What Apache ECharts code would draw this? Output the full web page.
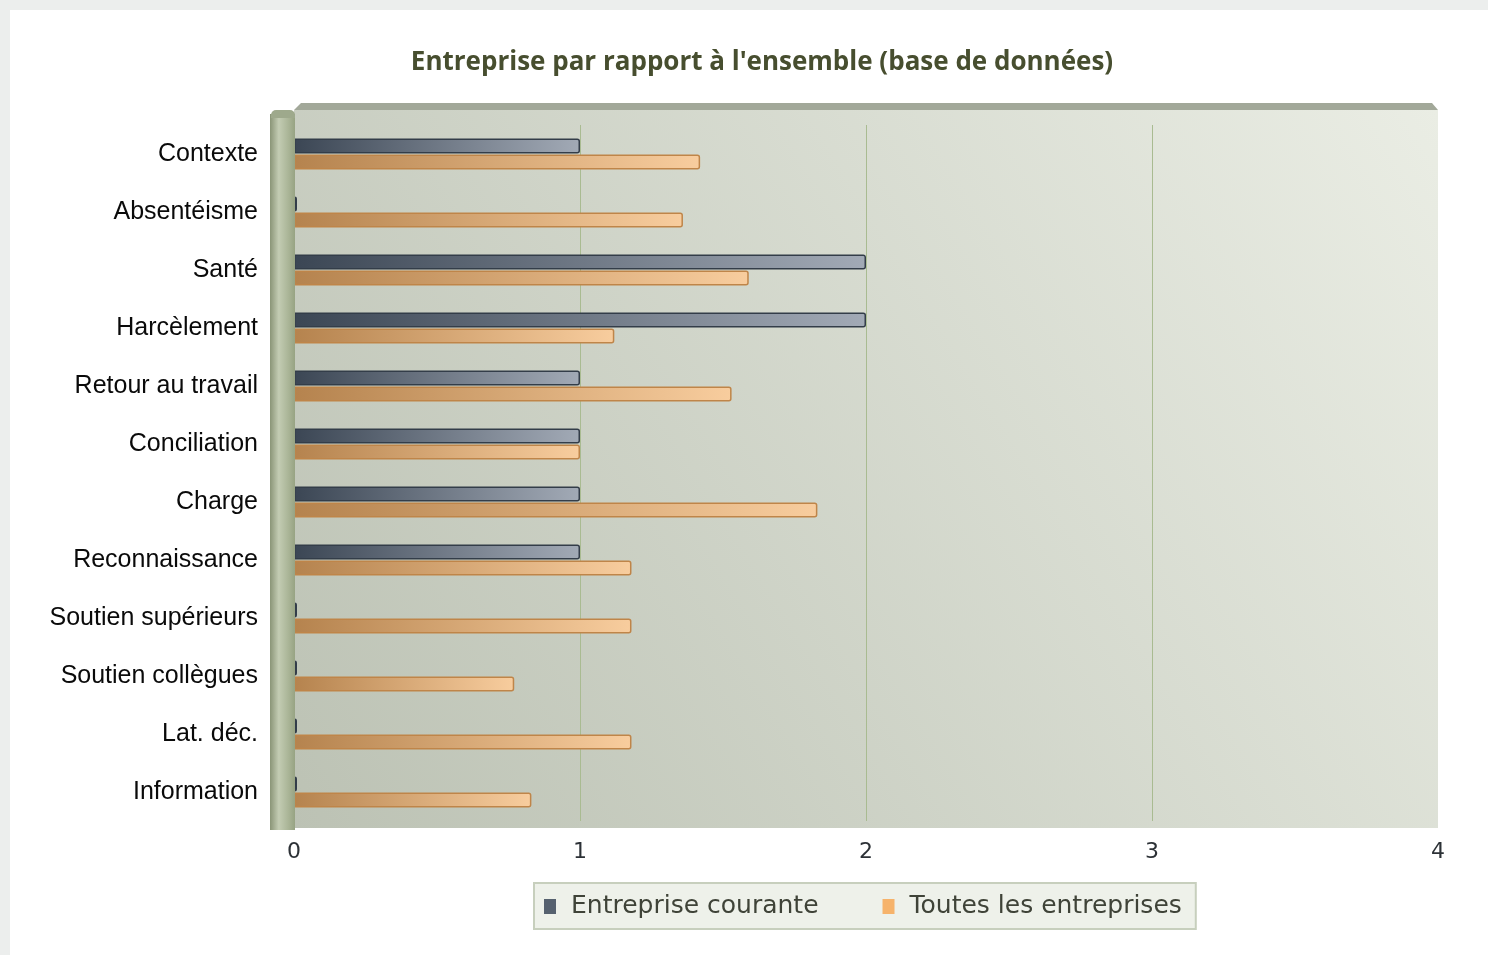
<!DOCTYPE html>
<html>
<head>
<meta charset="utf-8">
<title>Entreprise par rapport à l'ensemble</title>
<script src="https://cdn.jsdelivr.net/npm/echarts@6/dist/echarts.min.js"></script>
<style>
    html, body { margin: 0; padding: 0; background: #eceeed; }
    #panel { position: absolute; left: 10px; top: 10px; right: 0; bottom: 0; background: #fff; }
    #container0 { position: absolute; left: 0; top: 0; width: 1488px; height: 955px; }
</style>
</head>
<body>
<div id="panel"></div>
<div id="container0"></div>
<script>
var chart_0;

// catégories (de haut en bas)
var categories = ['Contexte', 'Absentéisme', 'Santé', 'Harcèlement', 'Retour au travail', 'Conciliation',
    'Charge', 'Reconnaissance', 'Soutien supérieurs', 'Soutien collègues', 'Lat. déc.', 'Information'];
var courante = [1, 0, 2, 2, 1, 1, 1, 1, 0, 0, 0, 0];
var toutes = [1.42, 1.36, 1.59, 1.12, 1.53, 1.0, 1.83, 1.18, 1.18, 0.77, 1.18, 0.83];
var xTicks = [0, 4, 1]; // min, max, intervalle

function grad(c0, c1) {
    return new echarts.graphic.LinearGradient(0, 0, 1, 0, [
        {offset: 0, color: c0},
        {offset: 1, color: c1}
    ]);
}

var opt_chart_0 = {
    animation: false,
    title: {
        text: "Entreprise par rapport à l'ensemble (base de données)",
        left: 757,
        textAlign: 'center',
        top: 45,
        textStyle: {
            fontFamily: 'Open Sans',
            fontSize: 26,
            fontWeight: 'bold',
            color: '#474e2f'
        }
    },
    // décor 3D du fond
    graphic: [
        {
            type: 'rect', z: -10, silent: true,
            shape: {x: 294, y: 110, width: 1144, height: 718},
            style: {
                fill: new echarts.graphic.LinearGradient(0, 1, 1, 0, [
                    {offset: 0, color: '#bcc2b4'},
                    {offset: 1, color: '#eaede4'}
                ])
            }
        },
        {
            type: 'polygon', z: -10, silent: true,
            shape: {points: [[294, 110], [301, 103], [1432, 103], [1438, 110]]},
            style: {fill: '#a2a899'}
        },
        {
            type: 'rect', z: 50, silent: true,
            shape: {x: 270, y: 114, width: 25, height: 716},
            style: {
                fill: new echarts.graphic.LinearGradient(0, 0, 1, 0, [
                    {offset: 0, color: '#8a9577'},
                    {offset: 0.35, color: '#c3ccb3'},
                    {offset: 0.75, color: '#a9b496'},
                    {offset: 1, color: '#97a383'}
                ])
            }
        },
        {
            type: 'rect', z: 50, silent: true,
            shape: {x: 271, y: 110, width: 24, height: 8, r: [5, 5, 0, 0]},
            style: {fill: '#9ea98c'}
        }
    ],
    grid: {
        left: 294,
        right: 50,
        top: 125,
        bottom: 134
    },
    legend: {
        left: 534,
        top: 883,
        padding: [11, 14, 10, 10],
        itemGap: 64,
        itemWidth: 12,
        itemHeight: 15,
        icon: 'rect',
        backgroundColor: '#eef1ea',
        borderColor: '#c7cfbd',
        borderWidth: 2,
        itemStyle: {borderWidth: 0},
        textStyle: {
            fontFamily: 'DejaVu Sans',
            fontSize: 25,
            color: '#3f4338',
            padding: [0, 0, 0, 10]
        },
        data: [
            {name: 'Entreprise courante', itemStyle: {color: '#56616f', borderWidth: 0}},
            {name: 'Toutes les entreprises', itemStyle: {color: '#f6b36b', borderWidth: 0}}
        ]
    },
    xAxis: {
        type: 'value',
        min: xTicks[0],
        max: xTicks[1],
        interval: xTicks[2],
        axisLine: {show: false},
        axisTick: {show: false},
        axisLabel: {
            margin: 20,
            fontFamily: 'DejaVu Sans',
            fontSize: 22,
            color: '#2c3136'
        },
        splitLine: {
            showMinLine: false,
            showMaxLine: false,
            lineStyle: {color: '#a9bb91', width: 1}
        }
    },
    yAxis: {
        type: 'category',
        inverse: true,
        data: categories,
        axisLine: {show: false},
        axisTick: {show: false},
        axisLabel: {
            margin: 36,
            fontFamily: 'Liberation Sans',
            fontSize: 25,
            color: '#0a0a0a'
        }
    },
    series: [
        {
            name: 'Entreprise courante',
            type: 'bar',
            barWidth: 15,
            barGap: '6%',
            barMinHeight: 3,
            itemStyle: {
                color: grad('#3b4654', '#a2aab6'),
                borderColor: '#333d49',
                borderWidth: 1.5,
                borderRadius: [0, 2, 2, 0]
            },
            data: courante
        },
        {
            name: 'Toutes les entreprises',
            type: 'bar',
            barWidth: 15,
            itemStyle: {
                color: grad('#b5834e', '#f8cd9e'),
                borderColor: '#bf8549',
                borderWidth: 1.5,
                borderRadius: [0, 2, 2, 0]
            },
            data: toutes
        }
    ]
};

chart_0 = echarts.init(document.getElementById('container0'));
chart_0.setOption(opt_chart_0);
</script>
</body>
</html>
